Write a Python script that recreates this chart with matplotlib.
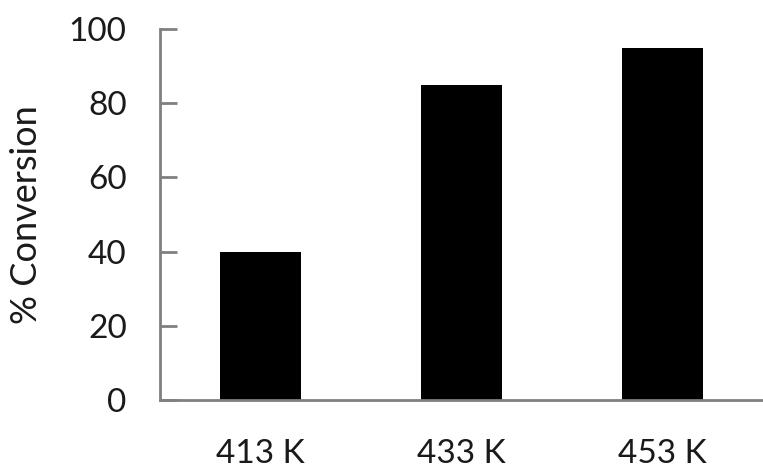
import matplotlib
matplotlib.use("Agg")
import matplotlib.pyplot as plt
import numpy as np

# data
temps = ["413 K", "433 K", "453 K"]
conversion = [40, 85, 95]
yticks = [0, 20, 40, 60, 80, 100]

plt.rcParams["font.family"] = ["Lato", "DejaVu Sans"]

fig = plt.figure(figsize=(7.63, 4.72), dpi=100)
ax = fig.add_axes([160 / 763, 72 / 472, 603 / 763, 371 / 472])

x = np.arange(len(temps))
ax.bar(x, conversion, width=0.4, color="black")

ax.set_xlim(-0.5, 2.5)
ax.set_ylim(0, 100)
ax.set_yticks(yticks)
ax.set_xticks(x)
ax.set_xticklabels(temps, fontsize=24, color="#1a1a1a")
ax.tick_params(axis="y", direction="in", length=12, width=2, color="#808080",
               labelsize=24, labelcolor="#1a1a1a", pad=24)
ax.tick_params(axis="x", length=0, pad=28)
ax.set_ylabel("% Conversion", fontsize=26, color="#1a1a1a")
ax.yaxis.set_label_coords(-0.194, 0.5)

for side in ["top", "right"]:
    ax.spines[side].set_visible(False)
for side in ["left", "bottom"]:
    ax.spines[side].set_color("#808080")
    ax.spines[side].set_linewidth(2)

fig.savefig("out.png", dpi=100)
